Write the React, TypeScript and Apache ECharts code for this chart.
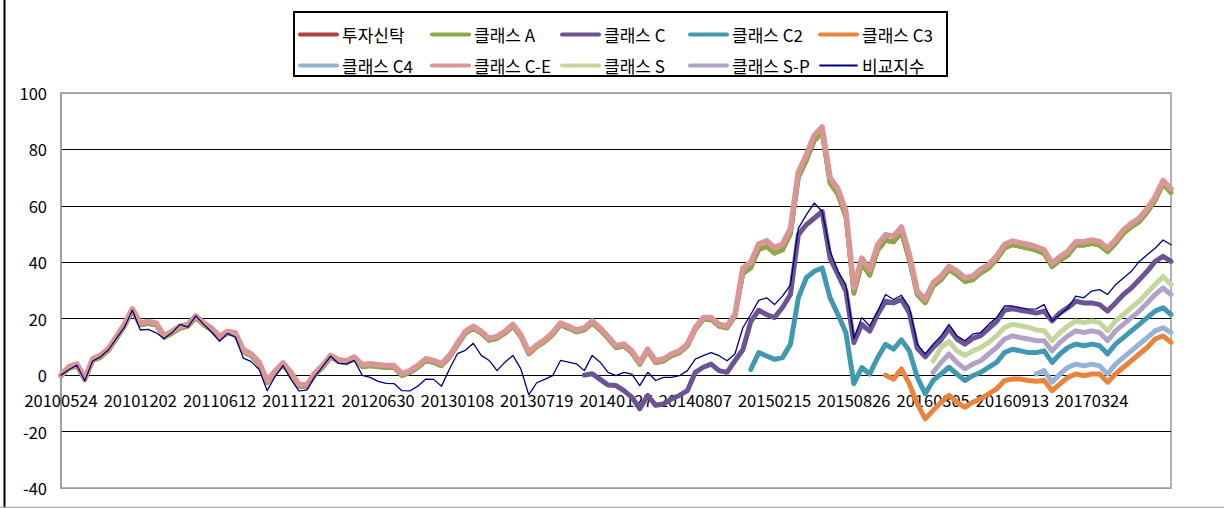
import React, { useEffect, useRef } from 'react';
import * as echarts from 'echarts';

const tickLabels = ['20100524', '20101202', '20110612', '20111221', '20120630', '20130108', '20130719', '20140127', '20140807', '20150215', '20150826', '20160305', '20160913', '20170324'];
const pointCount = 141;
const pointsPerLabel = 10;

const fundTrust = [
  -0.3, 2.3, 3.3, -1.7, 5.1, 6.3, 8.8, 13, 17.3, 22.8,
  17.8, 18.3, 17.8, 13.3, 14.8, 16.6, 17.3, 20.3, 17.8, 16,
  13, 14.8, 14.3, 8.3, 6.8, 3.8, -2.7, 0.8, 3.6, 0.3,
  -3.9, -4.2, 0, 2.7, 6.3, 4.8, 4.3, 5.7, 3, 3.3,
  3, 2.7, 2.7, -0.2, 0.9, 2.7, 5.1, 4.5, 3.3, 6.3,
  10.6, 14.8, 16.6, 14.8, 12.3, 13, 14.8, 17.3, 13.6, 7.5,
  10, 11.8, 14.3, 17.8, 16.6, 15.3, 16, 18.5, 16, 13,
  9.7, 10.3, 7.9, 3.8, 8.5, 4.4, 5, 6.8, 7.9, 10.3,
  16.1, 19.7, 19.7, 17.3, 16.7, 20.8, 36, 38, 44.5, 45.6,
  43.2, 44.4, 50, 70, 76, 83, 86, 68, 64, 56,
  29, 39.5, 35.4, 44.2, 47.8, 47.2, 50.5, 40.8, 28.5, 25.6,
  31.5, 33.8, 37.3, 35.6, 33.2, 33.8, 36.2, 37.9, 40.9, 45,
  46.2, 45.6, 45, 44.2, 43.1, 38.4, 40.7, 42.5, 46, 46,
  46.6, 46, 43.7, 46.6, 50.2, 52.5, 54.3, 57.7, 61.9, 67.7,
  64.7,
];

const classA = [
  -0.3, 2.3, 3.3, -1.7, 5.1, 6.3, 8.8, 13, 17.3, 22.8,
  17.8, 18.3, 17.8, 13.3, 14.8, 16.6, 17.3, 20.3, 17.8, 16,
  13, 14.8, 14.3, 8.3, 6.8, 3.8, -2.7, 0.8, 3.6, 0.3,
  -3.9, -4.2, 0, 2.7, 6.3, 4.8, 4.3, 5.7, 3, 3.3,
  3, 2.7, 2.7, -0.2, 0.9, 2.7, 5.1, 4.5, 3.3, 6.3,
  10.6, 14.8, 16.6, 14.8, 12.3, 13, 14.8, 17.3, 13.6, 7.5,
  10, 11.8, 14.3, 17.8, 16.6, 15.3, 16, 18.5, 16, 13,
  9.7, 10.3, 7.9, 3.8, 8.5, 4.4, 5, 6.8, 7.9, 10.3,
  16.1, 19.7, 19.7, 17.3, 16.7, 20.8, 36, 38, 44.5, 45.6,
  43.2, 44.4, 50, 70, 76, 83, 86, 68, 64, 56,
  29, 39.5, 35.4, 44.2, 47.8, 47.2, 50.5, 40.8, 28.5, 25.6,
  31.5, 33.8, 37.3, 35.6, 33.2, 33.8, 36.2, 37.9, 40.9, 45,
  46.2, 45.6, 45, 44.2, 43.1, 38.4, 40.7, 42.5, 46, 46,
  46.6, 46, 43.7, 46.6, 50.2, 52.5, 54.3, 57.7, 61.9, 67.7,
  64.7,
];

const classCE = [
  0, 3, 4, -1, 5.8, 7, 9.5, 13.7, 18, 23.5,
  18.5, 19, 18.5, 14, 15.5, 17.3, 18, 21, 18.5, 16.7,
  13.7, 15.5, 15, 9, 7.5, 4.5, -2, 1.5, 4.3, 1,
  -3.2, -3.5, 0.7, 3.4, 7, 5.5, 5, 6.4, 3.7, 4,
  3.7, 3.4, 3.4, 0.5, 1.6, 3.4, 5.8, 5.2, 4, 7,
  11.3, 15.5, 17.3, 15.5, 13, 13.7, 15.5, 18, 14.3, 8.2,
  10.7, 12.5, 15, 18.5, 17.3, 16, 16.7, 19.2, 16.7, 13.7,
  10.4, 11, 8.6, 4.5, 9.2, 5.1, 5.7, 7.5, 8.6, 11,
  16.8, 20.4, 20.4, 18, 17.4, 21.5, 38, 40, 46.5, 47.6,
  45.2, 46.4, 52, 72, 78, 85, 88, 70, 66, 58,
  31, 41.5, 37.4, 46.2, 49.8, 49.2, 52.5, 42.8, 29.8, 26.9,
  32.8, 35.1, 38.6, 36.9, 34.5, 35.1, 37.5, 39.2, 42.2, 46.3,
  47.5, 46.9, 46.3, 45.5, 44.4, 39.7, 42, 43.8, 47.3, 47.3,
  47.9, 47.3, 45, 47.9, 51.5, 53.8, 55.6, 59, 63.2, 69,
  66,
];

const benchmark = [
  0, 2, 3.5, -2, 5, 6.5, 9, 13, 17, 23,
  16, 16.2, 15, 13, 15, 18, 17, 21, 18, 15.3,
  12, 14.8, 13.5, 6, 4.8, 2, -5.5, -0.5, 3.4, -1.5,
  -5.6, -5.3, -0.5, 3, 6.7, 4.2, 4, 5.2, -0.1, -0.8,
  -2.2, -2.9, -3, -5.5, -5.6, -3.9, -1.4, -1.5, -3.9, 2.2,
  7.6, 8.8, 11.3, 7, 5.2, 1.6, 4.6, 7, 2.2, -7,
  -2.7, -1.5, -0.2, 5.2, 4.6, 4, 1.6, 7, 4.6, 1,
  -0.2, 1, 0.4, -3.7, 1, -1.9, -0.8, -0.8, -0.2, 1.6,
  5.7, 6.9, 8, 6.9, 5.1, 7.5, 16.8, 21.5, 26.5, 27.4,
  25, 28, 32, 52, 56.8, 61, 58, 44, 36.8, 32,
  13, 20.4, 17.4, 22.7, 28.6, 26.8, 28.3, 24, 11, 7.5,
  11, 13.9, 18, 13.9, 12.2, 14.5, 15.1, 18, 20.4, 24.5,
  24.5, 23.9, 23.4, 23.5, 25, 19.2, 21.5, 23.9, 28, 27.4,
  29.8, 30.3, 28.6, 32, 34.4, 36.8, 40.3, 42.7, 45, 47.9,
  46.2,
];

const classCStart = 66;
const classC = [
  0, 0.5, -1.5, -3.5, -3.7, -5.5, -7.8, -11.9, -7.2, -10.7,
  -10.2, -8.4, -7.2, -5.5, 1, 2.8, 3.9, 1.6, 1, 5.1,
  9, 19, 23, 21.5, 20.4, 24, 28.6, 49.8, 53.3, 55.6,
  58, 41.5, 35.6, 29.8, 11.5, 18, 15.6, 21.5, 26.2, 25.6,
  26.8, 22, 9.5, 6.5, 9.8, 12.5, 16.5, 12.8, 11, 13,
  14, 16.5, 19, 23, 23.5, 23, 22.5, 22, 22.7, 19.2,
  22.1, 23.9, 26.2, 25.6, 25.6, 25, 22.7, 25.6, 28.6, 30.9,
  33.8, 36.8, 40.3, 42.1, 40.3,
];

const classC2Start = 87;
const classC2 = [
  2, 8, 6.8, 5.6, 6.2, 10.9, 27.4, 34.5, 36.8,
  38, 27.4, 21.5, 15, -3, 2.7, 0.4, 6.2, 10.9, 9.2,
  12.5, 8.6, -0.8, -6.6, -1.9, 0.4, 2.8, 0.4, -1.9, -0.2,
  1, 2.8, 4.5, 8, 9.2, 8.6, 8, 8, 8.6, 4.5,
  7.5, 9.8, 11, 10.4, 11, 10.4, 7.5, 11, 13.3, 15.7,
  18, 20.4, 22.7, 23.9, 21.5,
];

const classC3Start = 104;
const classC3 = [
  0, -1.4, 2.2, -3.1, -10.2, -15.5, -12.5, -9.6, -7.2, -9.6,
  -11.4, -9.6, -8.4, -6.6, -4.9, -1.9, -1.4, -1.4, -1.9, -2.2,
  -1.9, -5.5, -3.1, -0.8, 0.4, -0.2, 0.4, 0.4, -2.5, 0.4,
  2.8, 5.1, 7.5, 9.8, 12.8, 13.9, 11.6,
];

const classC4Start = 123;
const classC4 = [0.4, 1.6, -2.5, 0.4, 2.8, 3.9, 3.3, 3.9, 3.3, 0.4, 3.9, 6.3, 8.6, 11, 13.3, 15.7, 16.8, 15.1];

const classSStart = 110;
const classS = [
  5, 9.8, 12, 8.6, 7, 8.6, 9.8, 11.6, 13.9, 16.9,
  18, 17.5, 17, 16, 15.7, 12.2, 15.1, 17.4, 19.2, 18.6,
  19.2, 18.6, 15.7, 19.2, 21.5, 23.9, 26.2, 29.2, 32.1, 35,
  32.1,
];

const classSPStart = 110;
const classSP = [
  1, 4.5, 7.5, 4.5, 2.2, 3.9, 5.1, 7.5, 9.8, 12.8,
  13.9, 13.3, 12.8, 12.2, 12.2, 8.6, 11.6, 13.9, 15.7, 15.1,
  15.7, 15.1, 12.2, 15.7, 18, 20.4, 22.7, 25.6, 28.6, 30.9,
  28.6,
];

const FONT = "'Noto Sans CJK KR', 'Noto Sans', sans-serif";

function pad(start: number, values: number[]) {
  return (new Array(start).fill(null) as (number | null)[]).concat(values);
}

export default function App() {
  const ref = useRef<HTMLDivElement>(null);

  useEffect(() => {
    if (!ref.current) return;
    const chart = echarts.init(ref.current, undefined, { renderer: 'svg' });

    const categories = Array.from({ length: pointCount }, (_, i) => {
      const k = i / pointsPerLabel;
      return i % pointsPerLabel === 0 && tickLabels[k] ? tickLabels[k] : 'p' + i;
    });

    const defs = [
      { name: '투자신탁', data: fundTrust, color: '#B0413E', width: 4.5, legendWidth: 4 },
      { name: '클래스 A', data: classA, color: '#8AAA49', width: 4.5, legendWidth: 4 },
      { name: '클래스 C', data: pad(classCStart, classC), color: '#6B5394', width: 5, legendWidth: 4 },
      { name: '클래스 C2', data: pad(classC2Start, classC2), color: '#4099B0', width: 5, legendWidth: 4 },
      { name: '클래스 C3', data: pad(classC3Start, classC3), color: '#E8843C', width: 5, legendWidth: 4 },
      { name: '클래스 C4', data: pad(classC4Start, classC4), color: '#95B3D7', width: 5, legendWidth: 4 },
      { name: '클래스 C-E', data: classCE, color: '#D99694', width: 5.5, legendWidth: 4 },
      { name: '클래스 S', data: pad(classSStart, classS), color: '#C3D69B', width: 5, legendWidth: 4 },
      { name: '클래스 S-P', data: pad(classSPStart, classSP), color: '#B3A2C7', width: 5, legendWidth: 4 },
      { name: '비교지수', data: benchmark, color: '#000080', width: 1.3, legendWidth: 1.8 },
    ];

    const legendCols = [
      ['투자신탁', '클래스 C4'],
      ['클래스 A', '클래스 C-E'],
      ['클래스 C', '클래스 S'],
      ['클래스 C2', '클래스 S-P'],
      ['클래스 C3', '비교지수'],
    ];
    const legendLefts = [298, 430, 560, 688, 818];

    chart.setOption({
      animation: false,
      backgroundColor: '#fff',
      grid: {
        left: 61,
        top: 93,
        right: 53,
        bottom: 20,
        outerBoundsMode: 'none',
        containLabel: false,
        show: true,
        borderColor: '#9a9a9a',
        borderWidth: 1.5,
        backgroundColor: 'transparent',
      },
      legend: legendCols.map((names, k) => ({
        data: names.map((n) => {
          const d = defs.find((s) => s.name === n)!;
          return { name: n, lineStyle: { width: d.legendWidth, color: d.color } };
        }),
        left: legendLefts[k],
        top: 26,
        orient: 'vertical',
        itemGap: 14,
        itemWidth: 37,
        itemHeight: 14,
        padding: 0,
        selectedMode: false,
        itemStyle: { opacity: 0, color: 'transparent', borderWidth: 0 },
        textStyle: { fontSize: 17, color: '#000', fontFamily: FONT },
      })),
      xAxis: {
        type: 'category',
        position: 'bottom',
        boundaryGap: false,
        data: categories,
        axisLine: { show: false, onZero: false },
        axisTick: { show: false },
        axisLabel: {
          interval: pointsPerLabel - 1,
          formatter: (v: string) => (v.charAt(0) === 'p' ? '' : v),
          color: '#000',
          fontSize: 16.5,
          fontFamily: FONT,
          margin: -96,
        },
        splitLine: { show: false },
      },
      yAxis: {
        type: 'value',
        min: -40,
        max: 100,
        interval: 20,
        axisLine: { show: true, lineStyle: { color: '#9a9a9a', width: 1.5 } },
        axisTick: { show: false },
        axisLabel: { color: '#000', fontSize: 16.5, fontFamily: FONT, margin: 14 },
        splitLine: {
          show: true,
          lineStyle: {
            color: ['#9a9a9a', '#000', '#000', '#000', '#000', '#000', '#000', '#9a9a9a'],
            width: 1,
          },
        },
      },
      series: defs.map((d) => ({
        name: d.name,
        type: 'line',
        data: d.data,
        symbol: 'none',
        showSymbol: false,
        connectNulls: false,
        itemStyle: { color: d.color },
        lineStyle: { color: d.color, width: d.width, join: 'round', cap: 'round' },
        emphasis: { disabled: true },
      })),
      graphic: [
        {
          type: 'rect',
          shape: { x: 294, y: 12, width: 653, height: 64 },
          style: { fill: 'none', stroke: '#000', lineWidth: 2 },
          silent: true,
        },
        {
          type: 'line',
          shape: { x1: 4.5, y1: 0, x2: 4.5, y2: 508 },
          style: { stroke: '#000', lineWidth: 2 },
          silent: true,
        },
        {
          type: 'line',
          shape: { x1: 0, y1: 507.5, x2: 1224, y2: 507.5 },
          style: { stroke: '#aaa', lineWidth: 1.5 },
          silent: true,
        },
      ],
    });

    return () => chart.dispose();
  }, []);

  return <div ref={ref} style={{ position: 'absolute', left: 0, top: 0, width: 1224, height: 508 }} />;
}
